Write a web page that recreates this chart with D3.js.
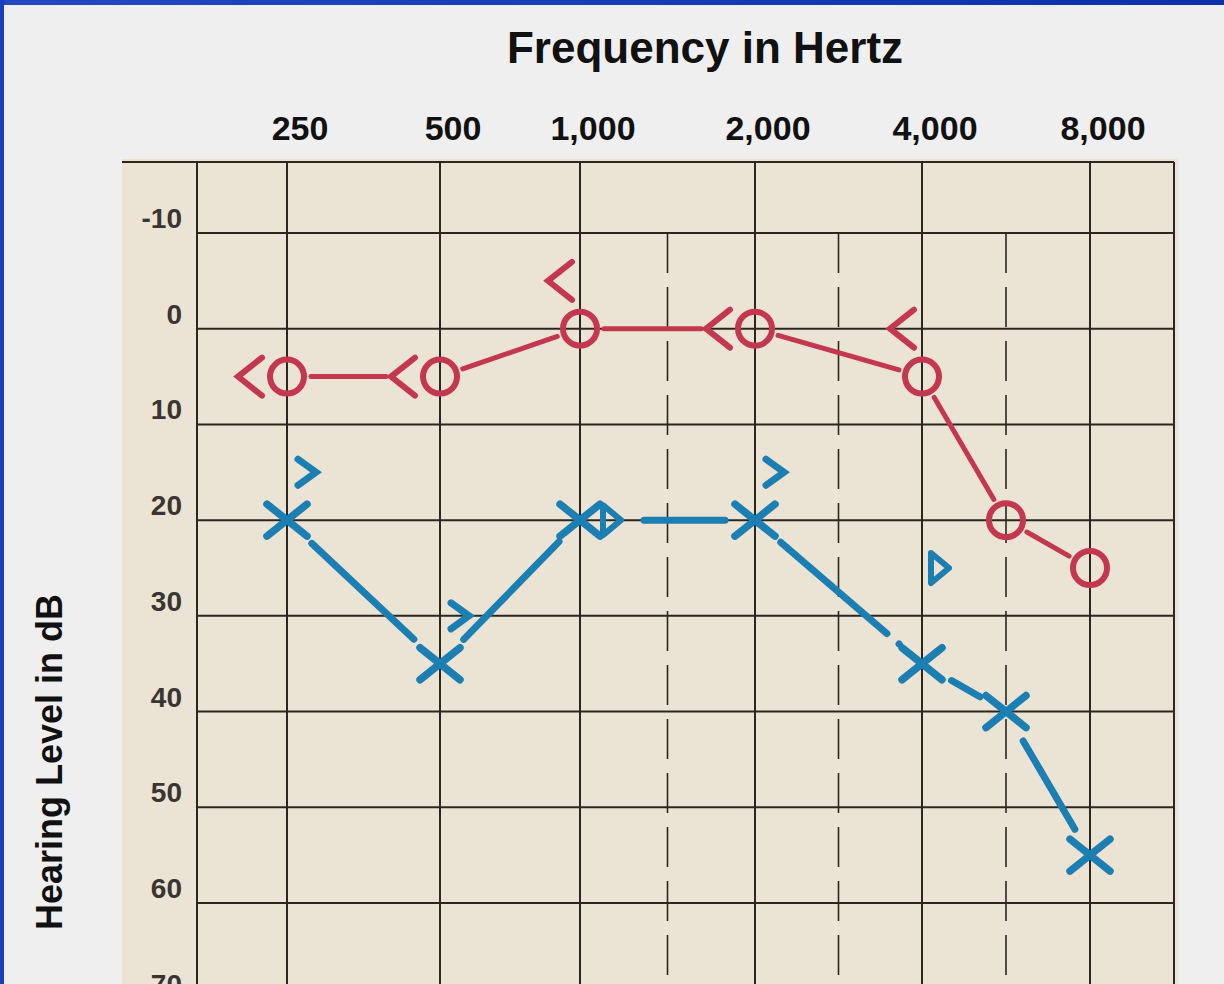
<!DOCTYPE html>
<html>
<head>
<meta charset="utf-8">
<script src="https://cdn.jsdelivr.net/npm/d3@7"></script>
<style>
  html, body { margin: 0; padding: 0; background: #efefef; overflow: hidden; }
  svg { display: block; font-family: "Liberation Sans", Arial, sans-serif; }
</style>
</head>
<body>
<svg id="chart"></svg>
<script>
// frequency columns (Hz) and their printed labels
const freqs = [250, 500, 1000, 2000, 4000, 8000]
const freqLabels = ['250', '500', '1,000', '2,000', '4,000', '8,000']
const halfFreqs = [1500, 3000, 6000]
const dbTicks = [-10, 0, 10, 20, 30, 40, 50, 60, 70]

// right ear, red: air conduction (O) and bone conduction (<)
const rightAirFreq = [250, 500, 1000, 2000, 4000, 6000, 8000]
const rightAir = [5, 5, 0, 0, 5, 20, 25]
const rightBoneFreq = [250, 500, 1000, 2000, 4000]
const rightBone = [5, 5, -5, 0, 0]

// left ear, blue: air conduction (X), bone conduction (>) and the triangle marks
const leftAirFreq = [250, 500, 1000, 2000, 4000, 6000, 8000]
const leftAir = [20, 35, 20, 20, 35, 40, 55]
const leftBoneFreq = [250, 500, 2000]
const leftBone = [15, 30, 15]
const leftTriFreq = [1000, 4000]
const leftTri = [20, 25]


const W = 1224
const H = 984
const red = '#c3384f'
const blue = '#1b7fb3'
const ink = '#2b2620'

const svg = d3.select('#chart')
    .attr('width', W)
    .attr('height', H)

// octave columns on the printed form are not quite even
const x = d3.scaleLinear()
    .domain(d3.range(freqs.length))
    .range([287, 440, 580, 755, 922, 1090])
// half-octave frequencies sit midway between columns
const col = f => Math.round(2 * Math.log2(f / freqs[0])) / 2
const fx = f => x(col(f))

const y = d3.scaleLinear()
    .domain([-10, 60])
    .range([233, 903])

const gridLeft = 197
const gridRight = x(freqs.length - 0.5)
const gridTop = 162

// slide background + blue frame
svg.append('rect')
    .attr('width', W)
    .attr('height', H)
    .attr('fill', '#efefef')

const grad = svg.append('defs').append('linearGradient')
    .attr('id', 'frameGrad')
grad.append('stop').attr('offset', '0%').attr('stop-color', '#2348c4')
grad.append('stop').attr('offset', '100%').attr('stop-color', '#0d30aa')

svg.append('rect')
    .attr('width', W)
    .attr('height', 5)
    .attr('fill', 'url(#frameGrad)')
svg.append('rect')
    .attr('width', 4)
    .attr('height', H)
    .attr('fill', '#1640bd')

// paper
svg.append('rect')
    .attr('x', 122)
    .attr('y', 159)
    .attr('width', gridRight + 4 - 122)
    .attr('height', H - 159)
    .attr('fill', '#ebe3d3')

// grid
const grid = svg.append('g')
    .attr('stroke', ink)
    .attr('stroke-width', 2)

grid.append('line')
    .attr('x1', 122)
    .attr('x2', gridRight)
    .attr('y1', gridTop)
    .attr('y2', gridTop)

grid.selectAll('.hline')
    .data(dbTicks)
    .join('line')
    .attr('class', 'hline')
    .attr('x1', gridLeft)
    .attr('x2', gridRight)
    .attr('y1', d => y(d))
    .attr('y2', d => y(d))

grid.selectAll('.vline')
    .data([gridLeft, ...freqs.map(fx), gridRight])
    .join('line')
    .attr('class', 'vline')
    .attr('x1', d => d)
    .attr('x2', d => d)
    .attr('y1', gridTop)
    .attr('y2', H)

grid.selectAll('.dline')
    .data(halfFreqs)
    .join('line')
    .attr('class', 'dline')
    .attr('x1', d => fx(d))
    .attr('x2', d => fx(d))
    .attr('y1', y(-10))
    .attr('y2', H)
    .attr('stroke-width', 1.6)
    .attr('stroke-dasharray', '40 14')

// texts
svg.append('text')
    .attr('x', 705)
    .attr('y', 63)
    .attr('text-anchor', 'middle')
    .style('font-size', '44px')
    .style('font-weight', 'bold')
    .style('fill', '#111')
    .text('Frequency in Hertz')

svg.selectAll('.flabel')
    .data(freqs)
    .join('text')
    .attr('class', 'flabel')
    .attr('x', d => fx(d) + 13)
    .attr('y', 140)
    .attr('text-anchor', 'middle')
    .style('font-size', '34px')
    .style('font-weight', 'bold')
    .style('fill', '#111')
    .text((d, i) => freqLabels[i])

// the 70 label is cut by the bottom edge, as on the scan
svg.selectAll('.dblabel')
    .data(dbTicks)
    .join('text')
    .attr('class', 'dblabel')
    .attr('x', 182)
    .attr('y', d => y(d) - 5)
    .attr('text-anchor', 'end')
    .style('font-size', '28px')
    .style('font-weight', 'bold')
    .style('fill', '#383532')
    .text(d => d)

svg.append('text')
    .attr('transform', 'translate(62, 762) rotate(-90)')
    .attr('text-anchor', 'middle')
    .style('font-size', '36px')
    .style('font-weight', 'bold')
    .style('fill', '#111')
    .text('Hearing Level in dB')


// helpers
const zip = (fs, vs) => fs.map((f, i) => ({ f: f, v: vs[i] }))
const rightPts = zip(rightAirFreq, rightAir)
const leftPts = zip(leftAirFreq, leftAir)
const rightBonePts = zip(rightBoneFreq, rightBone)
const leftBonePts = zip(leftBoneFreq, leftBone)
const leftTriPts = zip(leftTriFreq, leftTri)

// does a bone mark sit right on the air value (then it is drawn beside the marker)
const onLine = (pts, air) => pts.map(p => {
    const a = air.find(q => q.f === p.f)
    return { f: p.f, v: p.v, same: a && a.v === p.v }
})
const rb = onLine(rightBonePts, rightPts)
const lb = onLine(leftBonePts, leftPts)
const lt = onLine(leftTriPts, leftPts)

const trimmed = (p, q, a, b) => {
    const dx = q[0] - p[0], dy = q[1] - p[1], len = Math.hypot(dx, dy)
    return [[p[0] + dx * a / len, p[1] + dy * a / len],
            [q[0] - dx * b / len, q[1] - dy * b / len]]
}

const segs = (pts, trimA, trimB, extraStart, extraEnd) => d3.pairs(pts).map(([p, q]) =>
    trimmed([fx(p.f), y(p.v)], [fx(q.f), y(q.v)],
        trimA + (extraStart(p) ? 30 : 0), trimB + (extraEnd(q) ? 30 : 0)))

// red connecting line
svg.append('g')
    .selectAll('line')
    .data(segs(rightPts, 24, 24, () => false, q => rb.some(b => b.f === q.f && b.same)))
    .join('line')
    .attr('x1', d => d[0][0])
    .attr('y1', d => d[0][1])
    .attr('x2', d => d[1][0])
    .attr('y2', d => d[1][1])
    .attr('stroke', red)
    .attr('stroke-width', 5)
    .attr('stroke-linecap', 'round')

// blue connecting line (dashed)
svg.append('g')
    .selectAll('line')
    .data(segs(leftPts, 34, 30, p => lt.some(b => b.f === p.f && b.same), () => false))
    .join('line')
    .attr('x1', d => d[0][0])
    .attr('y1', d => d[0][1])
    .attr('x2', d => d[1][0])
    .attr('y2', d => d[1][1])
    .attr('stroke', blue)
    .attr('stroke-width', 7)
    .attr('stroke-linecap', 'round')
    .attr('stroke-dasharray', '140 16')

// red O
svg.append('g')
    .selectAll('circle')
    .data(rightPts)
    .join('circle')
    .attr('cx', d => fx(d.f))
    .attr('cy', d => y(d.v))
    .attr('r', 17)
    .attr('fill', 'none')
    .attr('stroke', red)
    .attr('stroke-width', 6)

// red <
svg.append('g')
    .selectAll('path')
    .data(rb)
    .join('path')
    .attr('d', d => {
        const cx = fx(d.f) + (d.same ? -37 : -20), cy = y(d.v), w = 24, h = 19
        return `M${cx + w / 2},${cy - h}L${cx - w / 2},${cy}L${cx + w / 2},${cy + h}`
    })
    .attr('fill', 'none')
    .attr('stroke', red)
    .attr('stroke-width', 6)
    .attr('stroke-linecap', 'round')

// blue X
svg.append('g')
    .selectAll('path')
    .data(leftPts)
    .join('path')
    .attr('d', d => {
        const cx = fx(d.f), cy = y(d.v), w = 20, h = 16
        return `M${cx - w},${cy - h}L${cx + w},${cy + h}M${cx - w},${cy + h}L${cx + w},${cy - h}`
    })
    .attr('fill', 'none')
    .attr('stroke', blue)
    .attr('stroke-width', 7.5)
    .attr('stroke-linecap', 'round')

// blue >
svg.append('g')
    .selectAll('path')
    .data(lb)
    .join('path')
    .attr('d', d => {
        const cx = fx(d.f) + 20, cy = y(d.v), w = 18, h = 13
        return `M${cx - w / 2},${cy - h}L${cx + w / 2},${cy}L${cx - w / 2},${cy + h}`
    })
    .attr('fill', 'none')
    .attr('stroke', blue)
    .attr('stroke-width', 7)
    .attr('stroke-linecap', 'round')

// blue triangles
svg.append('g')
    .selectAll('path')
    .data(lt)
    .join('path')
    .attr('d', d => {
        const cx = fx(d.f) + (d.same ? 32 : 18), cy = y(d.v), w = 18, h = 15
        return `M${cx - w / 2},${cy - h}L${cx + w / 2},${cy}L${cx - w / 2},${cy + h}Z`
    })
    .attr('fill', 'none')
    .attr('stroke', blue)
    .attr('stroke-width', 6)
    .attr('stroke-linejoin', 'round')

</script>
</body>
</html>
